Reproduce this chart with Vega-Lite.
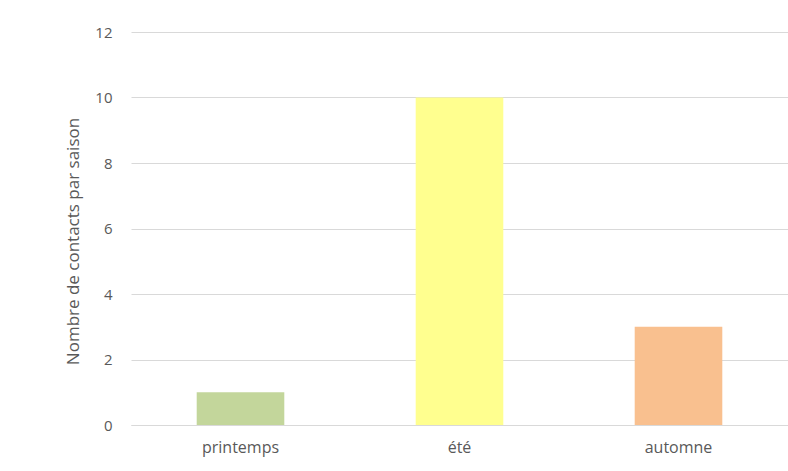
{
  "$schema": "https://vega.github.io/schema/vega-lite/v6.json",
  "width": 657,
  "height": 393,
  "autosize": {"type": "none"},
  "padding": {"left": 131, "top": 32, "right": 0, "bottom": 46},
  "background": "white",
  "config": {
    "view": {"stroke": null},
    "font": "Open Sans"
  },
  "data": {
    "values": [
      {"saison": "printemps", "contacts": 1},
      {"saison": "été", "contacts": 10},
      {"saison": "automne", "contacts": 3}
    ]
  },
  "mark": {"type": "bar"},
  "encoding": {
    "x": {
      "field": "saison",
      "type": "nominal",
      "sort": null,
      "scale": {"paddingInner": 0.6, "paddingOuter": 0.3},
      "axis": {
        "title": null,
        "labelAngle": 0,
        "ticks": false,
        "domainColor": "#d9d9d9",
        "labelColor": "#595959",
        "labelFontSize": 16,
        "labelPadding": 14
      }
    },
    "y": {
      "field": "contacts",
      "type": "quantitative",
      "scale": {"domain": [0, 12]},
      "axis": {
        "title": "Nombre de contacts par saison",
        "values": [0, 2, 4, 6, 8, 10, 12],
        "domain": false,
        "ticks": false,
        "gridColor": "#d9d9d9",
        "labelColor": "#595959",
        "labelFontSize": 15,
        "labelFontWeight": "normal",
        "labelPadding": 19,
        "titleColor": "#595959",
        "titleFontSize": 17,
        "titleFontWeight": "normal",
        "titlePadding": 12,
        "titleY": 209
      }
    },
    "color": {
      "field": "saison",
      "type": "nominal",
      "scale": {
        "domain": ["printemps", "été", "automne"],
        "range": ["#c3d69b", "#ffff8f", "#f9c08f"]
      },
      "legend": null
    }
  }
}
